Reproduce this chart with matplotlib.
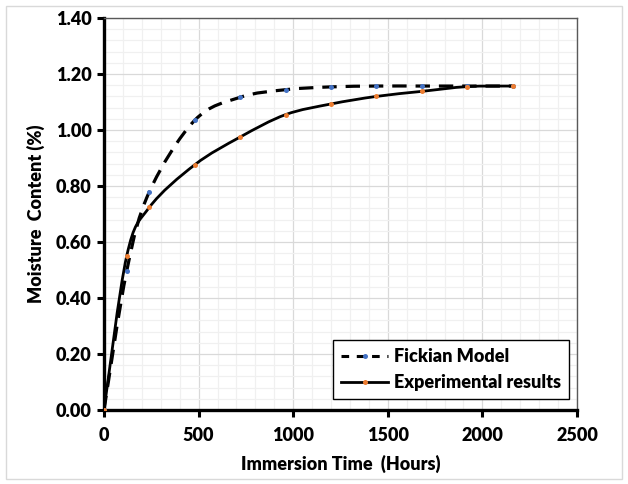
import numpy as np
import matplotlib
matplotlib.use('Agg')
import matplotlib.pyplot as plt
from matplotlib.path import Path
from matplotlib.patches import PathPatch, Rectangle
from matplotlib.lines import Line2D
from matplotlib.ticker import MultipleLocator

# data
hours = [0, 120, 240, 480, 720, 960, 1200, 1440, 1680, 1920, 2160]
fickian = [0.0, 0.496, 0.78, 1.035, 1.117, 1.144, 1.154, 1.157, 1.157, 1.157, 1.157]
experimental = [0.0, 0.55, 0.724, 0.876, 0.975, 1.055, 1.093, 1.12, 1.138, 1.155, 1.157]

blue = '#4472C4'
orange = '#ED7D31'

plt.rcParams['font.family'] = ['Lato', 'DejaVu Sans']
W = 'heavy'
FS = 13


def smooth_path(x, y):
    # Excel-like smoothed line: cubic bezier through each point
    p = np.column_stack([x, y]).astype(float)
    n = len(p)
    verts = [p[0]]
    codes = [Path.MOVETO]
    for i in range(n - 1):
        p0 = p[i - 1] if i > 0 else p[i]
        p1 = p[i]
        p2 = p[i + 1]
        p3 = p[i + 2] if i + 2 < n else p[i + 1]
        c1 = p1 + (p2 - p0) / 6.0
        c2 = p2 - (p3 - p1) / 6.0
        verts += [c1, c2, p2]
        codes += [Path.CURVE4] * 3
    return Path(verts, codes)


fig = plt.figure(figsize=(6.28, 4.84), dpi=100)
ax = fig.add_axes([0.1656, 0.1529, 0.7532, 0.8099])

# smoothed series lines
ax.add_patch(PathPatch(smooth_path(hours, fickian), fill=False, color='black',
                       lw=2.3, linestyle=(0, (4.5, 2.8)), zorder=3))
ax.add_patch(PathPatch(smooth_path(hours, experimental), fill=False, color='black',
                       lw=2.0, zorder=3))
ax.plot(hours, fickian, 'o', color=blue, ms=3.6, mew=0, zorder=4)
ax.plot(hours, experimental, 'o', color=orange, ms=3.6, mew=0, zorder=5)

ax.set_xlim(0, 2500)
ax.set_ylim(0, 1.4)
ax.xaxis.set_major_locator(MultipleLocator(500))
ax.xaxis.set_minor_locator(MultipleLocator(100))
ax.yaxis.set_major_locator(MultipleLocator(0.2))
ax.yaxis.set_minor_locator(MultipleLocator(0.04))
ax.yaxis.set_major_formatter(matplotlib.ticker.FormatStrFormatter('%.2f'))

ax.grid(which='major', color='#d9d9d9', lw=0.9, zorder=0)
ax.grid(which='minor', color='#f0f0f0', lw=0.9, zorder=0)
ax.set_axisbelow(True)

for side in ['left', 'bottom']:
    ax.spines[side].set_linewidth(2.4)
    ax.spines[side].set_color('black')
for side in ['top', 'right']:
    ax.spines[side].set_linewidth(1.0)
    ax.spines[side].set_color('#595959')

ax.tick_params(which='major', direction='out', length=5, width=2.2, labelsize=FS, pad=4)
ax.tick_params(which='minor', length=0)
ax.tick_params(axis='x', pad=7)
for lab in ax.get_xticklabels() + ax.get_yticklabels():
    lab.set_fontweight(W)

ax.set_xlabel('Immersion Time  (Hours)', fontsize=FS, fontweight=W, labelpad=8)
ax.set_ylabel('Moisture  Content (%)', fontsize=FS, fontweight=W, labelpad=8)

handles = [
    Line2D([], [], color='black', lw=2.2, linestyle=(0, (2.5, 2.5)),
           marker='o', ms=3.6, mew=0, mfc=blue),
    Line2D([], [], color='black', lw=2.0, marker='o', ms=3.6, mew=0, mfc=orange),
]
leg = ax.legend(handles, ['Fickian Model', 'Experimental results'],
                loc='lower right', bbox_to_anchor=(0.983, 0.028), borderaxespad=0,
                fancybox=False, edgecolor='black', framealpha=1,
                prop={'size': FS, 'weight': W},
                handlelength=2.6, handletextpad=0.3, borderpad=0.45, labelspacing=0.5)
leg.get_frame().set_linewidth(1.0)

# chart area border
fig.patches.append(Rectangle((0.009, 0.01), 0.982, 0.978, transform=fig.transFigure,
                             fill=False, edgecolor='#d9d9d9', lw=1.0))

fig.savefig('out.png', dpi=100)
